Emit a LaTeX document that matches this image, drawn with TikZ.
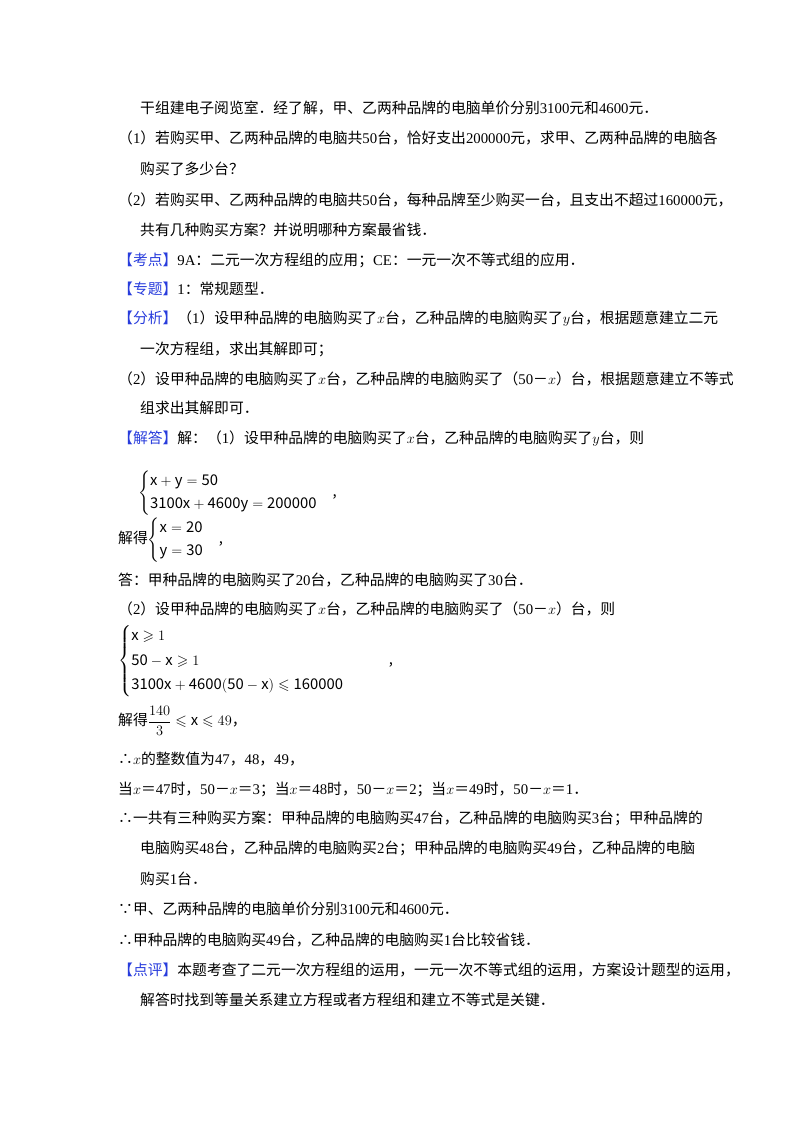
\documentclass[tikz,border=0pt]{standalone}
\usepackage{amsmath,amssymb}
\usepackage{fontspec}
\setmainfont{Noto Sans CJK SC}
\newfontfamily\lat{Liberation Serif}
\definecolor{lab}{RGB}{40,60,220}
\tikzset{ln/.style={anchor=west,inner sep=0pt,font=\fontsize{14.8}{17}\selectfont}}
\newcommand{\lb}[1]{\textcolor{lab}{【#1】}}
\newcommand{\n}[1]{{\lat #1}}
\begin{document}
\begin{tikzpicture}[x=1pt,y=-1pt]
\useasboundingbox (0,0) rectangle (800,1132);
\node[ln] (l1) at (140,108) {干组建电子阅览室．经了解，甲、乙两种品牌的电脑单价分别\n{3100}元和\n{4600}元．};
\node[ln] (l2) at (118,138) {（\n{1}）若购买甲、乙两种品牌的电脑共\n{50}台，恰好支出\n{200000}元，求甲、乙两种品牌的电脑各};
\node[ln] (l3) at (140,169) {购买了多少台？};
\node[ln] (l4) at (118,200) {（\n{2}）若购买甲、乙两种品牌的电脑共\n{50}台，每种品牌至少购买一台，且支出不超过\n{160000}元，};
\node[ln] (l5) at (140,230) {共有几种购买方案？并说明哪种方案最省钱．};
\node[ln] (l6) at (118,260) {\lb{考点}\n{9A}：二元一次方程组的应用；\n{CE}：一元一次不等式组的应用．};
\node[ln] (l7) at (118,289) {\lb{专题}\n{1}：常规题型．};
\node[ln] (l8) at (118,319) {\lb{分析}（\n{1}）设甲种品牌的电脑购买了$x$台，乙种品牌的电脑购买了$y$台，根据题意建立二元};
\node[ln] (l9) at (140,349) {一次方程组，求出其解即可；};
\node[ln] (l10) at (118,379) {（\n{2}）设甲种品牌的电脑购买了$x$台，乙种品牌的电脑购买了（\n{50}－$x$）台，根据题意建立不等式};
\node[ln] (l11) at (140,408) {组求出其解即可．};
\node[ln] (l12) at (118,439) {\lb{解答}解：（\n{1}）设甲种品牌的电脑购买了$x$台，乙种品牌的电脑购买了$y$台，则};
\node[ln] (s1) at (138,493) {$\begin{cases}\mathrm{x+y=50}\\[3pt] \mathrm{3100x+4600y=200000}\end{cases}$,};
\node[ln] (s2) at (118,540) {解得$\begin{cases}\mathrm{x=20}\\[3pt] \mathrm{y=30}\end{cases}$,};
\node[ln] (l13) at (118,580) {答：甲种品牌的电脑购买了\n{20}台，乙种品牌的电脑购买了\n{30}台．};
\node[ln] (l14) at (118,609) {（\n{2}）设甲种品牌的电脑购买了$x$台，乙种品牌的电脑购买了（\n{50}－$x$）台，则};
\node[ln] (s3) at (118,661) {$\begin{cases}\mathrm{x}\geqslant 1\\[4pt] \mathrm{50-x}\geqslant 1\\[4pt] \mathrm{3100x+4600(50-x)}\leqslant \mathrm{160000}\end{cases}$\hspace{30pt},};
\node[ln] (s4) at (118,721) {解得$\dfrac{140}{3}\leqslant \mathrm{x}\leqslant 49$，};
\node[ln] (l15) at (118,759) {∴$x$的整数值为\n{47}，\n{48}，\n{49}，};
\node[ln] (l16) at (118,789) {当$x$＝\n{47}时，\n{50}－$x$＝\n{3}；当$x$＝\n{48}时，\n{50}－$x$＝\n{2}；当$x$＝\n{49}时，\n{50}－$x$＝\n{1}．};
\node[ln] (l17) at (118,818) {∴一共有三种购买方案：甲种品牌的电脑购买\n{47}台，乙种品牌的电脑购买\n{3}台；甲种品牌的};
\node[ln] (l18) at (140,848) {电脑购买\n{48}台，乙种品牌的电脑购买\n{2}台；甲种品牌的电脑购买\n{49}台，乙种品牌的电脑};
\node[ln] (l19) at (140,879) {购买\n{1}台．};
\node[ln] (l20) at (118,909) {∵甲、乙两种品牌的电脑单价分别\n{3100}元和\n{4600}元．};
\node[ln] (l21) at (118,940) {∴甲种品牌的电脑购买\n{49}台，乙种品牌的电脑购买\n{1}台比较省钱．};
\node[ln] (l22) at (118,970) {\lb{点评}本题考查了二元一次方程组的运用，一元一次不等式组的运用，方案设计题型的运用，};
\node[ln] (l23) at (140,1000) {解答时找到等量关系建立方程或者方程组和建立不等式是关键．};
\end{tikzpicture}
\end{document}
